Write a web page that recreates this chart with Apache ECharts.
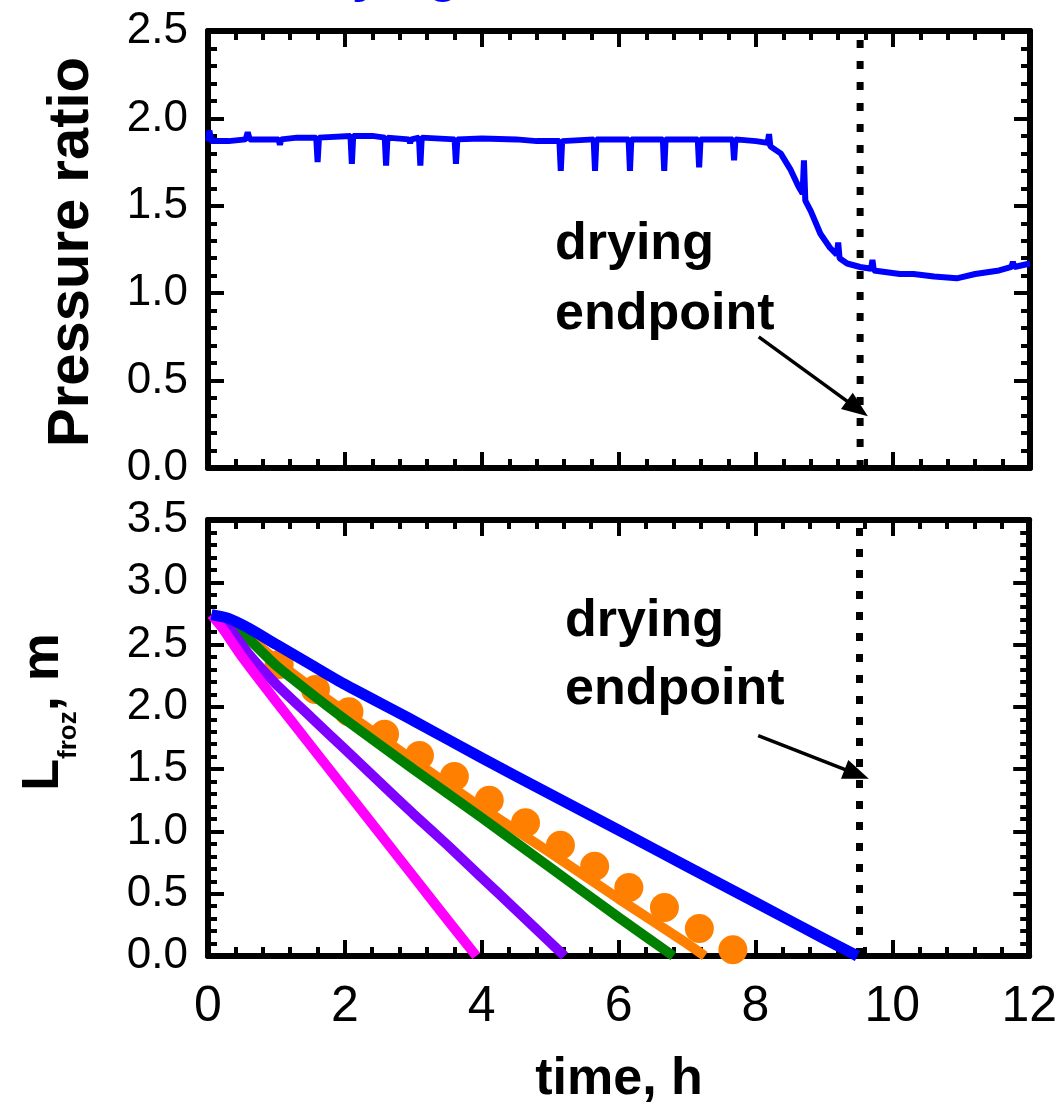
<!DOCTYPE html>
<html>
<head>
<meta charset="utf-8">
<script src="https://cdn.jsdelivr.net/npm/echarts@6/dist/echarts.min.js"></script>
<style>
  html, body { margin: 0; padding: 0; background: #fff; }
  #chart { width: 1060px; height: 1110px; }
</style>
</head>
<body>
<div id="chart"></div>
<script>
// top panel: pressure ratio trace (time in h)
const pressureTime = [0, 0.02, 0.05, 0.3, 0.55, 0.58, 0.61, 0.9, 1.03, 1.05, 1.07, 1.3, 1.58, 1.6, 1.62,
  2.08, 2.1, 2.12, 2.4, 2.58, 2.6, 2.62, 2.93, 2.95, 2.97, 3.08, 3.1, 3.12, 3.6, 3.62, 3.64, 4.0, 4.5, 4.8,
  5.13, 5.15, 5.17, 5.63, 5.65, 5.67, 6.14, 6.16, 6.18, 6.64, 6.66, 6.68, 7.15, 7.17, 7.19,
  7.66, 7.68, 7.7, 8.0, 8.17, 8.19, 8.21, 8.36, 8.5, 8.62, 8.68, 8.7, 8.72, 8.8, 8.94, 9.08,
  9.18, 9.2, 9.22, 9.33, 9.52, 9.68, 9.7, 9.72, 10.1, 10.3, 10.6, 10.93, 11.2, 11.55, 11.73,
  11.75, 11.77, 12];
const pressureRatio = [1.87, 1.93, 1.87, 1.87, 1.88, 1.92, 1.88, 1.88, 1.88, 1.85, 1.88, 1.89, 1.89, 1.75, 1.89,
  1.90, 1.74, 1.90, 1.90, 1.89, 1.73, 1.89, 1.88, 1.86, 1.88, 1.89, 1.73, 1.89, 1.88, 1.74, 1.88, 1.885, 1.88, 1.87,
  1.87, 1.70, 1.87, 1.88, 1.70, 1.88, 1.88, 1.70, 1.88, 1.88, 1.70, 1.88, 1.88, 1.72, 1.88,
  1.88, 1.76, 1.88, 1.87, 1.86, 1.91, 1.84, 1.80, 1.71, 1.61, 1.57, 1.76, 1.53, 1.47, 1.34, 1.26,
  1.22, 1.29, 1.20, 1.17, 1.15, 1.14, 1.19, 1.13, 1.11, 1.11, 1.095, 1.085, 1.11, 1.13, 1.15,
  1.18, 1.15, 1.17];

// bottom panel: frozen layer thickness
const magentaTime = [0.05, 0.2, 0.5, 1, 1.5, 2, 2.5, 3, 3.5, 3.92];
const magentaL = [2.74, 2.64, 2.40, 2.04, 1.69, 1.34, 0.99, 0.64, 0.29, 0];
const purpleTime = [0.05, 0.3, 0.6, 1, 1.5, 2, 2.5, 3, 3.5, 4, 4.5, 5, 5.21];
const purpleL = [2.74, 2.64, 2.42, 2.18, 1.92, 1.66, 1.40, 1.14, 0.89, 0.63, 0.37, 0.11, 0];
const greenTime = [0.05, 0.3, 0.6, 1, 1.5, 2, 3, 4, 5, 6, 6.8];
const greenL = [2.74, 2.67, 2.54, 2.33, 2.11, 1.90, 1.50, 1.11, 0.71, 0.31, 0];
const orangeTime = [0.05, 0.3, 0.6, 1, 1.5, 2, 3, 4, 5, 6, 7, 7.26];
const orangeL = [2.74, 2.68, 2.56, 2.37, 2.16, 1.96, 1.57, 1.19, 0.83, 0.46, 0.10, 0];
const blueTime = [0.05, 0.3, 0.6, 1, 1.5, 2, 3, 4, 5, 6, 7, 8, 9, 9.49];
const blueL = [2.74, 2.71, 2.63, 2.50, 2.34, 2.18, 1.89, 1.59, 1.30, 1.01, 0.72, 0.43, 0.14, 0];
const dotTime = [1.04, 1.57, 2.06, 2.58, 3.09, 3.60, 4.11, 4.64, 5.15, 5.65, 6.15, 6.67, 7.18, 7.67];
const dotL = [2.34, 2.14, 1.96, 1.78, 1.61, 1.44, 1.25, 1.07, 0.89, 0.72, 0.55, 0.39, 0.22, 0.05];

// drying endpoint and arrows
const endpointTime = 9.52;
const topArrow = [[8.04, 0.75], [9.48, 0.34]];
const bottomArrow = [[8.04, 1.77], [9.48, 1.46]];

const xTicks = { min: 0, max: 12, interval: 2 };
const topY = { min: 0, max: 2.5, interval: 0.5 };
const bottomY = { min: 0, max: 3.5, interval: 0.5 };

const zip = (xs, ys) => xs.map((x, i) => [x, ys[i]]);

const FONT = '"Liberation Sans", Arial, sans-serif';

function axisCommon(range, showLabel, position, gridIndex, fontSize) {
  return {
    type: 'value',
    gridIndex,
    position,
    min: range.min,
    max: range.max,
    interval: range.interval,
    axisLine: { show: true, onZero: false, lineStyle: { color: '#000', width: 6 } },
    axisTick: { show: true, inside: true, length: 16, lineStyle: { color: '#000', width: 4 } },
    minorTick: { show: true, splitNumber: 5, length: 9, lineStyle: { color: '#000', width: 4 } },
    splitLine: { show: false },
    axisLabel: {
      show: showLabel,
      color: '#000',
      fontFamily: FONT,
      fontSize,
      margin: position === 'left' ? 20 : 26,
      formatter: position === 'left' ? (v) => v.toFixed(1) : (v) => String(v),
    },
  };
}

function lineSeries(xi, yi, data, color, width) {
  return {
    type: 'line',
    xAxisIndex: xi,
    yAxisIndex: yi,
    data,
    symbol: 'none',
    smooth: 0.2,
    lineStyle: { color, width, cap: 'butt' },
    z: 3,
  };
}

function endpointSeries(xi, yi, ymax) {
  return {
    type: 'line',
    xAxisIndex: xi,
    yAxisIndex: yi,
    data: [[endpointTime, 0], [endpointTime, ymax]],
    symbol: 'none',
    lineStyle: { color: '#000', width: 7, type: [8, 13], cap: 'butt' },
    z: 2,
  };
}

function arrowLine(xi, yi, pts) {
  return {
    type: 'line',
    xAxisIndex: xi,
    yAxisIndex: yi,
    data: [],
    markLine: {
      silent: true,
      symbol: ['none', 'triangle'],
      symbolSize: [20, 26],
      label: { show: false },
      lineStyle: { color: '#000', width: 3.5, type: 'solid' },
      data: [[{ coord: pts[0] }, { coord: pts[1] }]],
    },
  };
}

const chart = echarts.init(document.getElementById('chart'));

const boldText = (x, y, text, size, extra) => ({
  type: 'text',
  x, y,
  style: Object.assign({
    text, fill: '#000', fontFamily: FONT, fontWeight: 'bold', fontSize: size,
    align: 'left', verticalAlign: 'middle',
  }, extra || {}),
});

const option = {
  animation: false,
  backgroundColor: '#fff',
  grid: [
    { left: 208, top: 31, width: 822, height: 437 },
    { left: 208, top: 520, width: 822, height: 436 },
  ],
  xAxis: [
    axisCommon(xTicks, false, 'bottom', 0, 50),
    axisCommon(xTicks, false, 'top', 0, 50),
    axisCommon(xTicks, true, 'bottom', 1, 50),
    axisCommon(xTicks, false, 'top', 1, 50),
  ],
  yAxis: [
    axisCommon(topY, true, 'left', 0, 44),
    axisCommon(topY, false, 'right', 0, 44),
    axisCommon(bottomY, true, 'left', 1, 44),
    axisCommon(bottomY, false, 'right', 1, 44),
  ],
  series: [
    // top panel
    endpointSeries(0, 0, 2.5),
    {
      type: 'line',
      xAxisIndex: 0,
      yAxisIndex: 0,
      data: zip(pressureTime, pressureRatio),
      symbol: 'none',
      lineStyle: { color: '#0000ff', width: 6 },
      z: 3,
    },
    arrowLine(0, 0, topArrow),
    // bottom panel
    endpointSeries(2, 2, 3.5),
    {
      type: 'scatter',
      xAxisIndex: 2,
      yAxisIndex: 2,
      data: zip(dotTime, dotL),
      symbolSize: 29,
      itemStyle: { color: '#ff8000', opacity: 1 },
      z: 2,
    },
    lineSeries(2, 2, zip(orangeTime, orangeL), '#ff8000', 10),
    lineSeries(2, 2, zip(greenTime, greenL), '#008000', 10),
    lineSeries(2, 2, zip(purpleTime, purpleL), '#8000ff', 10),
    lineSeries(2, 2, zip(magentaTime, magentaL), '#ff00ff', 10),
    lineSeries(2, 2, zip(blueTime, blueL), '#0000ff', 11),
    arrowLine(2, 2, bottomArrow),
  ],
  graphic: [
    // cut-off heading at the very top
    { type: 'text', x: 300, y: 3, style: { text: 'drying', fill: '#0000ff', fontFamily: FONT, fontWeight: 'bold', fontSize: 52, verticalAlign: 'bottom' } },
    boldText(555, 245, 'drying', 52),
    boldText(555, 315, 'endpoint', 52),
    boldText(565, 622, 'drying', 52),
    boldText(565, 690, 'endpoint', 52),
    boldText(619, 1080, 'time, h', 52, { align: 'center' }),
    {
      type: 'text', x: 72, y: 252, rotation: Math.PI / 2,
      style: { text: 'Pressure ratio', fill: '#000', fontFamily: FONT, fontWeight: 'bold', fontSize: 58, align: 'center', verticalAlign: 'middle' },
    },
    {
      type: 'text', x: 42, y: 712, rotation: Math.PI / 2,
      style: {
        text: '{l|L}{s|froz}{m|, m}',
        fill: '#000', fontFamily: FONT, fontWeight: 'bold', align: 'center', verticalAlign: 'middle',
        rich: {
          l: { fontSize: 52, fontFamily: FONT, fontWeight: 'bold', verticalAlign: 'bottom', lineHeight: 56 },
          s: { fontSize: 26, fontFamily: FONT, fontWeight: 'bold', verticalAlign: 'bottom', lineHeight: 56, padding: [0, 0, -12, 0] },
          m: { fontSize: 54, fontFamily: FONT, fontWeight: 'bold', verticalAlign: 'bottom', lineHeight: 56 },
        },
      },
    },
  ],
};

chart.setOption(option);
</script>
</body>
</html>
